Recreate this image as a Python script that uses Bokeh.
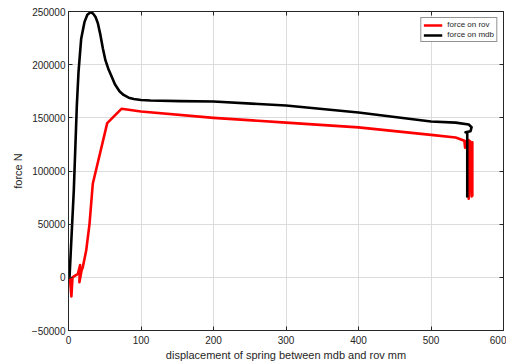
from bokeh.plotting import figure
from bokeh.models import (LinearAxis, FixedTicker, BasicTickFormatter, Range1d,
                          Legend, LegendItem)
from bokeh.embed import file_html
from bokeh.resources import INLINE

# force on rov (red)
rov_x = [0, 2, 4, 5.5, 13, 16, 15, 18, 19.7, 24.4, 29, 33.5, 53.4, 73, 100, 200, 300,
         400, 500, 534, 546, 547, 548, 552, 552, 554, 556, 557, 557]
rov_y = [0, -1000, -18000, 0, 3300, 11500, -4600, 6400, 9500, 25200, 50300, 88000,
         145000, 158500, 156000, 150000, 145500, 141000, 134000, 131500, 128500,
         122000, 128000, 129000, 74000, 128000, 76000, 127000, 76000]

# force on mdb (black)
mdb_x = [0, 1.4, 7.3, 11.5, 13.8, 17.5, 22, 26, 30.3, 34, 37.5, 40.5, 44, 47.5, 51,
         55, 58.9, 64, 70.3, 76, 83, 90, 100, 113, 154, 200, 300, 400, 500, 534, 552,
         556, 554.5, 547.6, 550, 550]
mdb_y = [0, 0, 81600, 161600, 193000, 224400, 240000, 247000, 249400, 248000,
         244500, 239000, 228000, 215000, 204000, 196000, 189800, 181500, 175000,
         171500, 169000, 167700, 166800, 166300, 165700, 165400, 161600, 155000,
         146500, 145500, 143700, 141200, 137400, 136500, 136000, 75000]

x_ticks = [0, 100, 200, 300, 400, 500, 600]
y_ticks = [-50000, 0, 50000, 100000, 150000, 200000, 250000]

FONT = "Liberation Sans"
AX_COL = "#262626"

p = figure(frame_width=435, frame_height=319, output_backend="svg",
           toolbar_location=None,
           x_range=Range1d(0, 600), y_range=Range1d(-50000, 250000),
           min_border_left=68, min_border_right=3, min_border_top=11,
           min_border_bottom=32)
p.background_fill_color = "white"
p.border_fill_color = "white"
p.outline_line_color = AX_COL
p.outline_line_width = 1

for ax in p.xaxis + p.yaxis:
    ax.major_tick_in = 4
    ax.major_tick_out = 0
    ax.minor_tick_line_color = None
    ax.axis_line_color = AX_COL
    ax.major_tick_line_color = AX_COL
    ax.major_label_text_color = AX_COL
    ax.major_label_text_font = FONT
    ax.major_label_text_font_size = "10px"
    ax.axis_label_text_font = FONT
    ax.axis_label_text_font_size = "11px"
    ax.axis_label_text_font_style = "normal"
    ax.axis_label_text_color = AX_COL

p.xaxis.ticker = FixedTicker(ticks=x_ticks)
p.yaxis.ticker = FixedTicker(ticks=y_ticks)
p.yaxis.formatter = BasicTickFormatter(use_scientific=False)
p.xaxis.axis_label = "displacement of spring between mdb and rov mm"
p.yaxis.axis_label = "force N"
p.xaxis.major_label_standoff = 5
p.yaxis.major_label_standoff = 3
p.xaxis.axis_label_standoff = 2
p.yaxis.axis_label_standoff = 5

# top & right axes for ticks only
top = LinearAxis(ticker=FixedTicker(ticks=x_ticks), major_label_text_font_size="1px",
                 major_label_text_color=None, major_label_standoff=0,
                 major_tick_in=4, major_tick_out=0, minor_tick_line_color=None,
                 axis_line_color=AX_COL, major_tick_line_color=AX_COL)
right = LinearAxis(ticker=FixedTicker(ticks=y_ticks), major_label_text_font_size="1px",
                   major_label_text_color=None, major_label_standoff=0,
                   major_tick_in=4, major_tick_out=0, minor_tick_line_color=None,
                   axis_line_color=AX_COL, major_tick_line_color=AX_COL)
p.add_layout(top, "above")
p.add_layout(right, "right")

p.grid.grid_line_color = "#dcdcdc"
p.grid.grid_line_width = 1
p.xgrid.ticker = FixedTicker(ticks=x_ticks)
p.ygrid.ticker = FixedTicker(ticks=y_ticks)

r1 = p.line(rov_x, rov_y, line_color="#ff0000", line_width=2.6, line_join="round")
r2 = p.line(mdb_x, mdb_y, line_color="#000000", line_width=2.6, line_join="round")

legend = Legend(items=[LegendItem(label="force on rov", renderers=[r1]),
                       LegendItem(label="force on mdb", renderers=[r2])],
                location="top_right")
legend.label_text_font = FONT
legend.label_text_font_size = "8px"
legend.label_text_color = AX_COL
legend.label_height = 8
legend.glyph_height = 8
legend.glyph_width = 19
legend.label_standoff = 5
legend.spacing = 1
legend.padding = 2
legend.margin = 6
legend.border_line_color = AX_COL
legend.border_line_width = 1
legend.background_fill_alpha = 1
p.add_layout(legend, "center")

open("out.html", "w").write(file_html(p, INLINE))
